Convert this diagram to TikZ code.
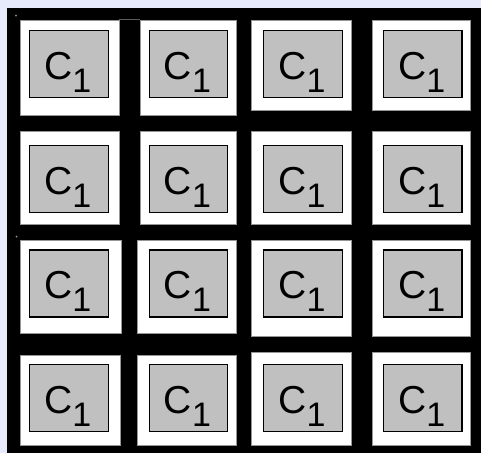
\documentclass[tikz,border=0pt]{standalone}
\usepackage{fontspec}
\setmainfont{Liberation Sans}
\usetikzlibrary{positioning}
\definecolor{PaleLavender}{RGB}{230,234,250}
\definecolor{CoreGray}{RGB}{192,192,192}
\definecolor{EdgeGray}{RGB}{150,150,150}

\begin{document}
\begin{tikzpicture}[x=1pt, y=-1pt,
    padcell/.style={fill=white, draw=EdgeGray, line width=0.5pt},
    corebox/.style={draw=black, fill=CoreGray, line width=1.1pt, inner sep=0pt,
                    minimum width=78.4pt, minimum height=67pt},
    corelabel/.style={anchor=base, inner sep=0pt, font=\fontsize{39}{39}\selectfont}]
    \fill[PaleLavender] (0,0) rectangle (481,453);
    \useasboundingbox (0,0) rectangle (481,453);
    \fill[black] (7,8) rectangle (481,453);
    \fill[EdgeGray] (16,15.5) circle (1pt) (16.5,236.5) circle (1pt);
    \draw[EdgeGray!60!black, line width=0.4pt] (119,19.6) -- (140,19.6);
    % white pads: left/top/right/bottom
    \foreach \xa/\ya/\xb/\yb in {20.7/20/119/115.7, 140/20/236.7/115.7,
            251.7/20/351.7/110, 372.7/20/470.3/110,
            20.7/131.7/119/224.3, 140/131.7/236.7/224.3,
            251.7/131.7/351.7/224.3, 372.7/131.7/470.3/224.3,
            20.7/240/121.7/333.3, 137.7/240/236.7/333.3,
            251.7/240/351.7/336.7, 372.7/240/470.3/336.7,
            20.7/355/120.7/445, 137.7/355/236.7/445,
            251.7/352.7/351.7/445, 372.7/352.7/470.3/445}
        \draw[padcell] (\xa,\ya) rectangle (\xb,\yb);
    % gray cores with their labels
    \foreach \r/\yc in {1/64.1, 2/179, 3/283.5, 4/398.3}
        \foreach \c/\xc in {1/68.85, 2/188.45, 3/302.95, 4/422.8} {
            \node[corebox] (g-\r-\c) at (\xc,\yc) {};
            \node[corelabel] (t-\r-\c) at ([xshift=-1pt, yshift=-15pt]g-\r-\c.center)
                {C\raisebox{-13pt}{\fontsize{34}{34}\selectfont 1}};
        }
\end{tikzpicture}
\end{document}
